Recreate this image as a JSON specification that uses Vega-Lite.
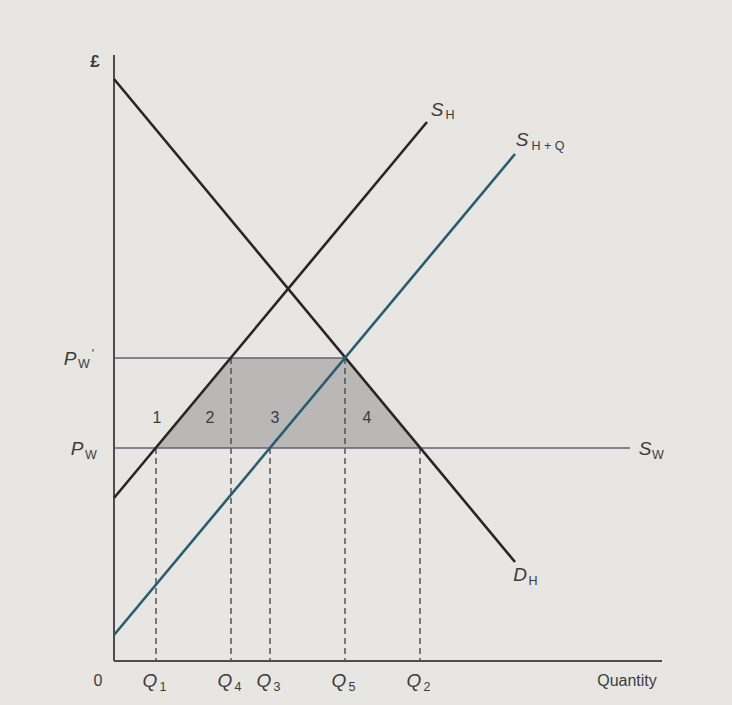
{
  "$schema": "https://vega.github.io/schema/vega-lite/v6.json",
  "autosize": "none",
  "width": 560,
  "height": 620,
  "padding": {"left": 114, "top": 41, "right": 58, "bottom": 44},
  "background": "#e7e6e3",
  "config": {"view": {"stroke": null}, "font": "Liberation Sans"},
  "datasets": {
    "curves": [
      {"series": "DH", "X": 0, "Y": 582},
      {"series": "DH", "X": 401, "Y": 99},
      {"series": "SH", "X": 0, "Y": 163},
      {"series": "SH", "X": 313, "Y": 539},
      {"series": "SHQ", "X": 0, "Y": 26},
      {"series": "SHQ", "X": 401, "Y": 507}
    ],
    "prices": [
      {"name": "PW'", "X": 0, "X2": 231, "Y": 303},
      {"name": "PW", "X": 0, "X2": 516, "Y": 213}
    ],
    "quantities": [
      {"q": "Q1", "X": 42, "Y": 213},
      {"q": "Q4", "X": 117, "Y": 303},
      {"q": "Q3", "X": 156, "Y": 213},
      {"q": "Q5", "X": 231, "Y": 303},
      {"q": "Q2", "X": 306, "Y": 213}
    ],
    "region": [
      {"X": 42, "Y": 213, "base": 213},
      {"X": 117, "Y": 303, "base": 213},
      {"X": 231, "Y": 303, "base": 213},
      {"X": 306, "Y": 213, "base": 213}
    ],
    "axes": [
      {"axis": "y", "X": 0, "Y": 0, "X2": 0, "Y2": 606},
      {"axis": "x", "X": 0, "Y": 0, "X2": 548, "Y2": 0}
    ],
    "labels": [
      {"t": "P", "kind": "main", "X": -44, "Y": 302},
      {"t": "W", "kind": "sub", "X": -30, "Y": 297},
      {"t": "'", "kind": "sub", "X": -21, "Y": 307},
      {"t": "P", "kind": "main", "X": -37, "Y": 212},
      {"t": "W", "kind": "sub", "X": -23, "Y": 206},
      {"t": "Q", "kind": "main", "X": 36, "Y": -20},
      {"t": "1", "kind": "sub", "X": 49, "Y": -26},
      {"t": "Q", "kind": "main", "X": 111, "Y": -20},
      {"t": "4", "kind": "sub", "X": 124, "Y": -26},
      {"t": "Q", "kind": "main", "X": 150, "Y": -20},
      {"t": "3", "kind": "sub", "X": 163, "Y": -26},
      {"t": "Q", "kind": "main", "X": 225, "Y": -20},
      {"t": "5", "kind": "sub", "X": 238, "Y": -26},
      {"t": "Q", "kind": "main", "X": 300, "Y": -20},
      {"t": "2", "kind": "sub", "X": 313, "Y": -26},
      {"t": "S", "kind": "main", "X": 323, "Y": 551},
      {"t": "H", "kind": "sub", "X": 336, "Y": 546},
      {"t": "S", "kind": "main", "X": 408, "Y": 521},
      {"t": "H + Q", "kind": "sub", "X": 434, "Y": 515},
      {"t": "D", "kind": "main", "X": 406, "Y": 86},
      {"t": "H", "kind": "sub", "X": 419, "Y": 80},
      {"t": "S", "kind": "main", "X": 531, "Y": 212},
      {"t": "W", "kind": "sub", "X": 544, "Y": 206},
      {"t": "0", "kind": "plain", "X": -16, "Y": -20},
      {"t": "Quantity", "kind": "plain", "X": 513, "Y": -20},
      {"t": "1", "kind": "plain", "X": 43, "Y": 243},
      {"t": "2", "kind": "plain", "X": 96, "Y": 243},
      {"t": "3", "kind": "plain", "X": 161, "Y": 243},
      {"t": "4", "kind": "plain", "X": 253, "Y": 243},
      {"t": "£", "kind": "unit", "X": -19, "Y": 599}
    ]
  },
  "encoding": {
    "x": {"field": "X", "type": "quantitative", "scale": {"domain": [0, 560], "nice": false, "zero": false}, "axis": null},
    "y": {"field": "Y", "type": "quantitative", "scale": {"domain": [0, 620], "nice": false, "zero": false}, "axis": null}
  },
  "layer": [
    {
      "data": {"name": "region"},
      "mark": {"type": "area", "color": "#b9b8b7", "opacity": 1, "clip": false},
      "encoding": {"y2": {"field": "base"}}
    },
    {
      "data": {"name": "quantities"},
      "mark": {"type": "rule", "color": "#4a4a4a", "strokeWidth": 1.4, "strokeDash": [6, 4], "clip": false},
      "encoding": {"y2": {"datum": 0}}
    },
    {
      "data": {"name": "prices"},
      "mark": {"type": "rule", "color": "#5f6275", "strokeWidth": 1.6, "clip": false},
      "encoding": {"x2": {"field": "X2"}}
    },
    {
      "data": {"name": "axes"},
      "mark": {"type": "rule", "color": "#4d4d4d", "strokeWidth": 2, "clip": false},
      "encoding": {"x2": {"field": "X2"}, "y2": {"field": "Y2"}}
    },
    {
      "data": {"name": "curves"},
      "mark": {"type": "line", "strokeWidth": 2.6, "clip": false},
      "encoding": {
        "detail": {"field": "series"},
        "color": {"field": "series", "type": "nominal", "legend": null,
          "scale": {"domain": ["DH", "SH", "SHQ"], "range": ["#262626", "#262626", "#2a5d6c"]}}
      }
    },
    {
      "data": {"name": "labels"},
      "transform": [{"filter": "datum.kind === 'main'"}],
      "mark": {"type": "text", "fontSize": 19, "fontStyle": "italic", "color": "#3c3c3c", "align": "center", "baseline": "middle"},
      "encoding": {"text": {"field": "t"}}
    },
    {
      "data": {"name": "labels"},
      "transform": [{"filter": "datum.kind === 'sub'"}],
      "mark": {"type": "text", "fontSize": 12.5, "color": "#3c3c3c", "align": "center", "baseline": "middle"},
      "encoding": {"text": {"field": "t"}}
    },
    {
      "data": {"name": "labels"},
      "transform": [{"filter": "datum.kind === 'plain'"}],
      "mark": {"type": "text", "fontSize": 16, "color": "#3c3c3c", "align": "center", "baseline": "middle"},
      "encoding": {"text": {"field": "t"}}
    },
    {
      "data": {"name": "labels"},
      "transform": [{"filter": "datum.kind === 'unit'"}],
      "mark": {"type": "text", "fontSize": 17, "fontWeight": "bold", "color": "#3c3c3c", "align": "center", "baseline": "middle"},
      "encoding": {"text": {"field": "t"}}
    }
  ]
}
